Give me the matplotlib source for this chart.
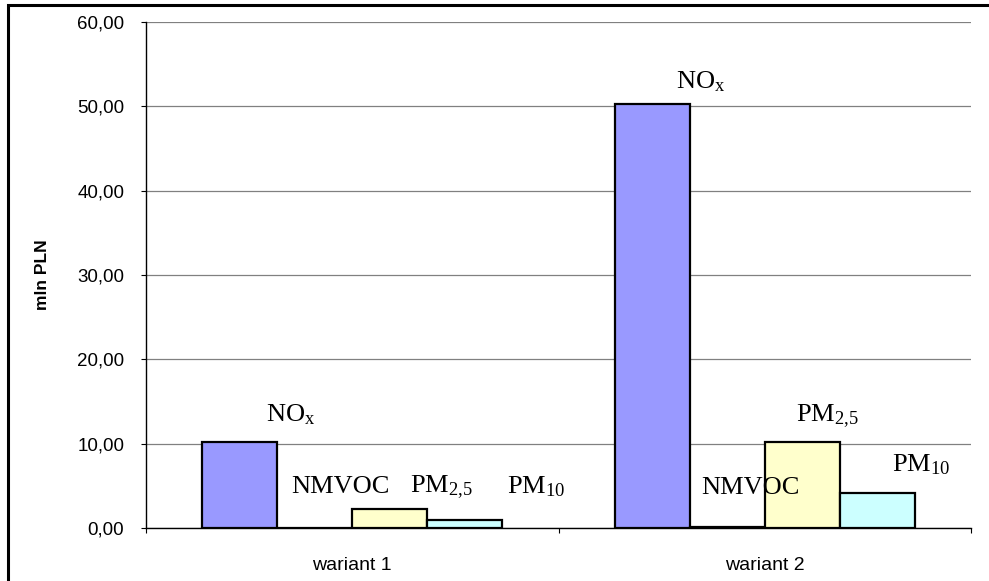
import matplotlib
matplotlib.use("Agg")
import matplotlib.pyplot as plt
from matplotlib.patches import Rectangle
from matplotlib.ticker import FuncFormatter, FixedLocator

plt.rcParams['mathtext.fontset'] = 'custom'
plt.rcParams['mathtext.rm'] = 'Liberation Serif'
plt.rcParams['mathtext.it'] = 'Liberation Serif:italic'

# Data
variants = ["wariant 1", "wariant 2"]
pollutants = ["NOx", "NMVOC", "PM2.5", "PM10"]
nox = [10.20, 50.30]
nmvoc = [0.05, 0.10]
pm25 = [2.25, 10.25]
pm10 = [0.95, 4.15]

series_values = [nox, nmvoc, pm25, pm10]
series_labels = [r"NO$_{\mathrm{x}}$", "NMVOC", r"PM$_{\mathrm{2{,}5}}$", r"PM$_{\mathrm{10}}$"]
colors = ["#9999FF", "#993366", "#FFFFCC", "#CCFFFF"]

# label offsets in pixels from the top-centre of each bar: [variant][series]
label_dx = [[51, 26, 52, 71], [48, 23, 25, 44]]
label_dy = [[27, 41, 22, 33], [22, 39, 25, 28]]

fig = plt.figure(figsize=(9.89, 5.81), dpi=100)
ax = fig.add_axes([146 / 989, 1 - 528 / 581, 825 / 989, 506 / 581])

n = len(series_values)
w = 1.0 / (n + 1.5)
start = 0.75 * w
for k, (vals, lab, col) in enumerate(zip(series_values, series_labels, colors)):
    xs = [i + start + k * w for i in range(len(variants))]
    bars = ax.bar(xs, vals, width=w, align="edge", color=col,
                  edgecolor="black", linewidth=1.6, zorder=3)
    for i, b in enumerate(bars):
        ax.annotate(lab, (b.get_x() + b.get_width() / 2, b.get_height()),
                    xytext=(label_dx[i][k], label_dy[i][k]),
                    textcoords="offset pixels", ha="center", va="center",
                    fontsize=19, family="Liberation Serif", zorder=5)

ax.set_xlim(0, len(variants))
ax.set_ylim(0, 60)
ax.set_yticks(range(0, 61, 10))
ax.yaxis.set_major_formatter(FuncFormatter(lambda v, p: f"{v:.2f}".replace(".", ",")))
ax.tick_params(axis="y", direction="out", length=3.6, width=0.8, pad=12,
               labelsize=13.5, colors="black")
for lbl in ax.get_yticklabels():
    lbl.set_family("Liberation Sans")

ax.xaxis.set_major_locator(FixedLocator([0, 1, 2]))
ax.xaxis.set_minor_locator(FixedLocator([0.5, 1.5]))
ax.set_xticklabels([], minor=False)
ax.set_xticklabels(variants, minor=True, family="Liberation Sans", fontsize=14)
ax.tick_params(axis="x", which="major", direction="out", length=3.6, width=0.8)
ax.tick_params(axis="x", which="minor", length=0, pad=21)

ax.grid(axis="y", color="#808080", linewidth=0.9, zorder=0)
ax.set_axisbelow(True)
for s in ["top", "right"]:
    ax.spines[s].set_visible(False)
ax.spines["left"].set_linewidth(1.0)
ax.spines["bottom"].set_linewidth(1.0)

ax.set_ylabel("mln PLN", family="Liberation Sans", fontweight="bold", fontsize=12.5)
ax.yaxis.set_label_coords(-0.116, 0.5)

# outer frame (runs off the right and bottom edges)
fig.patches.append(Rectangle((8 / 989, -0.05), 1.0, 1 - 5 / 581 + 0.05,
                             transform=fig.transFigure, fill=False,
                             edgecolor="black", linewidth=2.2))

fig.savefig("out.png", dpi=100)
